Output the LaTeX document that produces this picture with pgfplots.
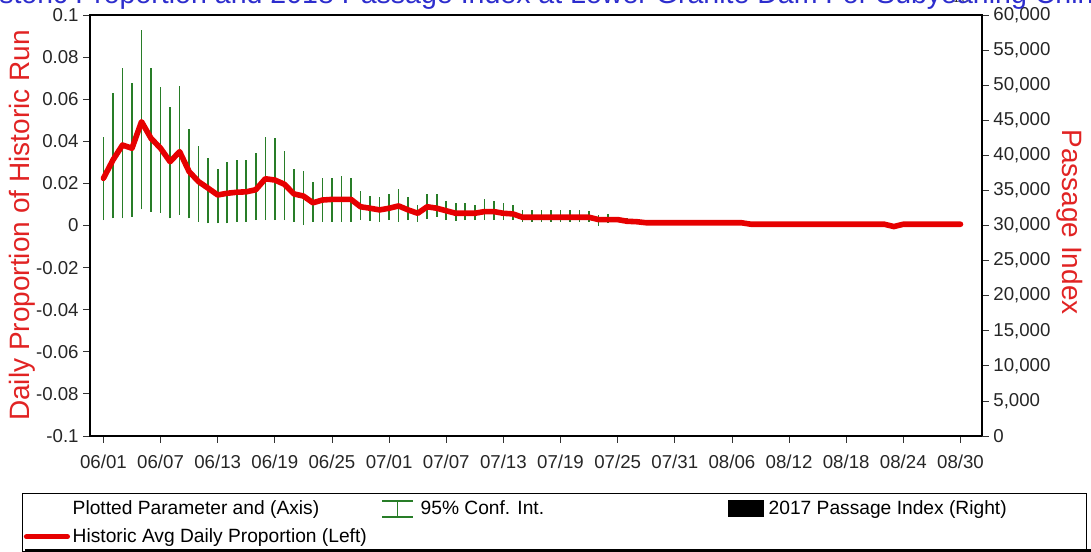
\documentclass[border=0pt]{standalone}
\usepackage{fontspec}
\setmainfont{Liberation Sans}
\usepackage{pgfplots}
\usepackage{pgfplotstable}
\pgfplotsset{compat=1.18}

\definecolor{histred}{RGB}{230,0,0}
\definecolor{labred}{RGB}{225,35,35}
\definecolor{cigreen}{RGB}{40,125,40}
\definecolor{ttlblue}{RGB}{45,45,205}

% 95% confidence interval, day 0 = 06/01
\pgfplotstableread{
day lo hi
0 0.0026 0.0422
1 0.0034 0.0630
2 0.0034 0.0750
3 0.0042 0.0675
4 0.0077 0.0929
5 0.0066 0.0750
6 0.0061 0.0657
7 0.0034 0.0565
8 0.0050 0.0664
9 0.0034 0.0460
10 0.0018 0.0378
11 0.0010 0.0319
12 0.0010 0.0268
13 0.0010 0.0303
14 0.0018 0.0311
15 0.0018 0.0311
16 0.0026 0.0346
17 0.0026 0.0422
18 0.0026 0.0414
19 0.0026 0.0352
20 0.0018 0.0267
21 0.0002 0.0259
22 0.0018 0.0208
23 0.0018 0.0227
24 0.0018 0.0227
25 0.0018 0.0235
26 0.0018 0.0227
27 0.0026 0.0165
28 0.0022 0.0142
29 0.0018 0.0134
30 0.0026 0.0150
31 0.0018 0.0173
32 0.0026 0.0134
33 0.0018 0.0097
34 0.0030 0.0150
35 0.0042 0.0150
36 0.0026 0.0118
37 0.0022 0.0108
38 0.0026 0.0108
39 0.0026 0.0097
40 0.0026 0.0124
41 0.0026 0.0118
42 0.0026 0.0108
43 0.0026 0.0097
44 0.0018 0.0074
45 0.0018 0.0074
46 0.0018 0.0074
47 0.0018 0.0074
48 0.0018 0.0074
49 0.0018 0.0074
50 0.0018 0.0074
51 0.0018 0.0071
52 -0.0002 0.0050
53 0.0011 0.0055
54 0.0018 0.0042
55 0.0018 0.0034
56 0.0012 0.0030
57 0.0005 0.0022
58 0.0005 0.0022
}\ciTable

% historic average daily proportion
\pgfplotstableread{
day prop
0 0.0224
1 0.0311
2 0.0382
3 0.0367
4 0.0493
5 0.0414
6 0.0367
7 0.0303
8 0.0351
9 0.0256
10 0.0208
11 0.0177
12 0.0145
13 0.0153
14 0.0158
15 0.0160
16 0.0170
17 0.0222
18 0.0216
19 0.0196
20 0.0150
21 0.0140
22 0.0108
23 0.0121
24 0.0124
25 0.0124
26 0.0124
27 0.0089
28 0.0082
29 0.0074
30 0.0082
31 0.0093
32 0.0074
33 0.0058
34 0.0089
35 0.0082
36 0.0070
37 0.0058
38 0.0058
39 0.0058
40 0.0066
41 0.0066
42 0.0058
43 0.0055
44 0.0039
45 0.0039
46 0.0039
47 0.0039
48 0.0039
49 0.0039
50 0.0039
51 0.0039
52 0.0028
53 0.0028
54 0.0028
55 0.0020
56 0.0018
57 0.0013
58 0.0013
59 0.0013
60 0.0013
61 0.0013
62 0.0013
63 0.0013
64 0.0013
65 0.0013
66 0.0013
67 0.0013
68 0.0006
69 0.0006
70 0.0006
71 0.0006
72 0.0006
73 0.0006
74 0.0006
75 0.0006
76 0.0006
77 0.0006
78 0.0006
79 0.0006
80 0.0006
81 0.0006
82 0.0006
83 -0.0005
84 0.0006
85 0.0006
86 0.0006
87 0.0006
88 0.0006
89 0.0006
90 0.0006
}\histTable

\begin{document}
\begin{tikzpicture}
\begin{axis}[
  at={(67.5pt,87pt)}, anchor=south west,
  scale only axis, width=669pt, height=315.75pt,
  xmin=-1.41, xmax=92.26, ymin=-0.1, ymax=0.1,
  xtick={0,6,...,90},
  xticklabels={06/01,06/07,06/13,06/19,06/25,07/01,07/07,07/13,07/19,07/25,07/31,08/06,08/12,08/18,08/24,08/30},
  ytick={-0.1,-0.08,-0.06,-0.04,-0.02,0,0.02,0.04,0.06,0.08,0.1},
  yticklabels={-0.1,-0.08,-0.06,-0.04,-0.02,0,0.02,0.04,0.06,0.08,0.1},
  xtick pos=bottom, ytick pos=left, tick align=outside,
  major tick length=5pt,
  tick style={line width=0.6pt, color=black!80},
  axis line style={line width=1.5pt},
  ticklabel style={font=\fontsize{14}{16}\selectfont, text=black!85},
  xticklabel style={yshift=-6pt},
  ylabel={Daily Proportion of Historic Run},
  every axis y label/.style={at={(axis description cs:-0.0762,0.5)}, rotate=90, anchor=center,
    font=\fontsize{21}{24}\selectfont, text=labred},
  legend columns=3,
  legend cell align=left,
  legend style={at={(axis description cs:-0.0762,-0.1354)}, anchor=north west,
    draw=black, line width=0.8pt, inner sep=1pt, nodes={inner xsep=2pt, inner ysep=4.5pt},
    column sep=0pt, font=\fontsize{14.4}{17}\selectfont},
]
\addlegendimage{legend image code/.code={\path[draw=none] (0pt,-4pt) rectangle (31pt,4pt);}}
\addlegendentry{\makebox[226pt][l]{Plotted Parameter and (Axis)}}
\addlegendimage{legend image code/.code={\path[draw=none] (0pt,-7pt) rectangle (31pt,7pt);
  \fill[cigreen, draw=none] (4pt,5.4pt) rectangle (27pt,6.6pt);
  \fill[cigreen, draw=none] (4pt,-6.6pt) rectangle (27pt,-5.4pt);
  \fill[cigreen, draw=none] (14.9pt,-6pt) rectangle (16.1pt,6pt);}}
\addlegendentry{\makebox[226pt][l]{95\% Conf. Int.}}
\addlegendimage{legend image code/.code={\path[draw=none] (0pt,0pt) -- (31pt,0pt);
  \fill[black, draw=none] (2.5pt,-6.4pt) rectangle (29.5pt,6.4pt);}}
\addlegendentry{\makebox[235pt][l]{2017 Passage Index (Right)}}

\addplot[draw=none, mark=none, forget plot,
  error bars/.cd, y dir=plus, y explicit, error mark=none,
  error bar style={draw=cigreen, line width=1.2pt}]
  table[x=day, y=lo, y error plus expr=\thisrow{hi}-\thisrow{lo}] {\ciTable};

\addplot[histred, line width=4.2pt, line join=round, line cap=round, mark=none,
  legend image code/.code={\draw[histred, line width=3.6pt] (0pt,0pt) -- (31pt,0pt);}]
  table[x=day, y=prop] {\histTable};
\addlegendentry{\makebox[226pt][l]{Historic Avg Daily Proportion (Left)}}
\end{axis}

\begin{axis}[
  at={(67.5pt,87pt)}, anchor=south west,
  scale only axis, width=669pt, height=315.75pt,
  xmin=-1.41, xmax=92.26, ymin=0, ymax=60000,
  axis x line=none, axis y line*=right,
  ytick={0,5000,10000,15000,20000,25000,30000,35000,40000,45000,50000,55000,60000},
  yticklabels={0,{5,000},{10,000},{15,000},{20,000},{25,000},{30,000},{35,000},{40,000},{45,000},{50,000},{55,000},{60,000}},
  tick align=outside, major tick length=5pt,
  tick style={line width=0.6pt, color=black!80},
  axis line style={line width=1.5pt},
  ticklabel style={font=\fontsize{14}{16}\selectfont, text=black!85},
  ylabel={Passage Index},
  every axis y label/.style={at={(axis description cs:1.0987,0.508)}, rotate=-90, anchor=center,
    font=\fontsize{21}{24}\selectfont, text=labred},
]
\addplot[draw=none, mark=none] coordinates {(0,0)};
\end{axis}

% legend box shadow
\fill[black] (19pt,0pt) rectangle (818.25pt,2pt);

\node[anchor=base, font=\fontsize{21.4}{24}\selectfont, text=ttlblue]
  at (417pt,411.5pt) {Historic Proportion and 2018 Passage Index at Lower Granite Dam For Subyearling Chinook};

\pgfresetboundingbox
\useasboundingbox (0,0) rectangle (818.25pt,414pt);
\end{tikzpicture}
\end{document}
